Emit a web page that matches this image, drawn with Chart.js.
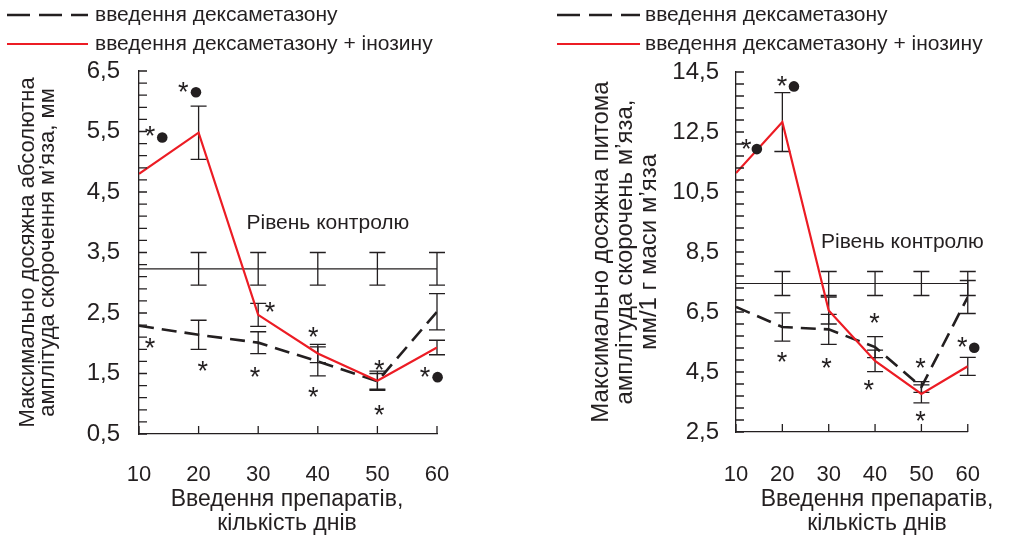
<!DOCTYPE html>
<html>
<head>
<meta charset="utf-8">
<script src="https://cdn.jsdelivr.net/npm/chart.js@4.4.1/dist/chart.umd.min.js"></script>
<style>
  html, body { margin: 0; padding: 0; background: #fff; }
  #wrap { position: relative; width: 1010px; height: 538px; overflow: hidden; }
  canvas { position: absolute; top: 0; }
  #cLeft { left: 0; }
  #cRight { left: 520px; }
</style>
</head>
<body>
<div id="wrap">
  <canvas id="cLeft" width="520" height="538"></canvas>
  <canvas id="cRight" width="490" height="538"></canvas>
</div>
<script>
// Days of drug administration
const days = [10, 20, 30, 40, 50, 60];

// Maximal absolute contraction amplitude, mm
const absControl    = [3.23, 3.23, 3.23, 3.23, 3.23, 3.23];
const absControlErr = [null, 0.27, 0.27, 0.27, 0.27, 0.27];
const absDex        = [2.29, 2.14, 2.01, 1.70, 1.37, 2.52];
const absDexErr     = [null, 0.24, 0.18, 0.24, 0.13, 0.30];
const absDexIno     = [4.80, 5.48, 2.47, 1.83, 1.38, 1.93];
const absDexInoErr  = [null, 0.44, 0.19, 0.15, 0.16, 0.12];
const absTicks      = [0.5, 1.5, 2.5, 3.5, 4.5, 5.5, 6.5];
// significance marks [day, value]
const absStars = [[11.85, 5.50], [17.43, 6.24], [31.98, 2.60], [11.85, 2.00], [20.69, 1.62],
                  [29.46, 1.53], [39.25, 2.19], [39.25, 1.20], [50.3, 1.64], [50.3, 0.90], [57.99, 1.53]];
const absDots  = [[13.9, 5.40], [19.56, 6.15], [60.1, 1.44]];
const absControlLabel = [41.7, 3.99];

// Maximal specific contraction amplitude, mm per 1 g of muscle
const specControl    = [7.45, 7.45, 7.45, 7.45, 7.45, 7.45];
const specControlErr = [null, 0.40, 0.40, 0.40, 0.40, 0.40];
const specDex        = [6.67, 6.00, 5.92, 5.33, 4.00, 7.00];
const specDexErr     = [null, 0.47, 0.50, 0.35, 0.18, 0.55];
const specDexIno     = [11.13, 12.83, 6.55, 4.87, 3.77, 4.69];
const specDexInoErr  = [null, 0.98, 0.45, 0.36, 0.30, 0.30];
const specTicks      = [2.5, 4.5, 6.5, 8.5, 10.5, 12.5, 14.5];
const specStars = [[12.2, 12.11], [19.9, 14.2], [19.9, 5.0], [29.5, 4.8], [39.9, 6.31],
                   [38.65, 4.06], [49.8, 4.8], [49.8, 3.03], [58.8, 5.5]];
const specDots  = [[14.5, 11.93], [22.5, 14.02], [61.4, 5.31]];
const specControlLabel = [45.9, 8.83];

const legendDex = 'введення дексаметазону';
const legendDexIno = 'введення дексаметазону + інозину';
const controlText = 'Рівень контролю';
const xTitle = ['Введення препаратів,', 'кількість днів'];

const ink = '#231f20';
const red = '#ec1c24';
const family = "'Liberation Sans', Arial, Helvetica, sans-serif";
const fmt = v => v.toFixed(1).replace('.', ',');

function makeChart(id, cfg) {
  const pts = arr => days.map((d, i) => ({ x: d, y: arr[i] }));

  const decor = {
    id: 'decor',
    beforeDatasetsDraw(chart) {
      const { ctx, scales: { x, y } } = chart;
      ctx.save();
      ctx.strokeStyle = ink;
      ctx.lineWidth = 1.3;
      const bars = (vals, errs) => {
        vals.forEach((v, i) => {
          if (errs[i] == null) return;
          const px = x.getPixelForValue(days[i]);
          const t = y.getPixelForValue(v + errs[i]);
          const b = y.getPixelForValue(v - errs[i]);
          ctx.beginPath();
          ctx.moveTo(px, t); ctx.lineTo(px, b);
          ctx.moveTo(px - 8, t); ctx.lineTo(px + 8, t);
          ctx.moveTo(px - 8, b); ctx.lineTo(px + 8, b);
          ctx.stroke();
        });
      };
      bars(cfg.control, cfg.controlErr);
      bars(cfg.dex, cfg.dexErr);
      bars(cfg.dexIno, cfg.dexInoErr);
      ctx.restore();
    },
    afterDatasetsDraw(chart) {
      const { ctx, chartArea: a, scales: { x, y } } = chart;
      ctx.save();
      // inner tick marks
      ctx.strokeStyle = ink;
      ctx.lineWidth = 1.3;
      ctx.beginPath();
      const n = Math.round((cfg.yMax - cfg.yMin) / cfg.minorStep);
      for (let i = 0; i <= n; i++) {
        const py = y.getPixelForValue(cfg.yMin + i * cfg.minorStep);
        ctx.moveTo(a.left, py); ctx.lineTo(a.left + 8, py);
      }
      days.forEach(d => {
        const px = x.getPixelForValue(d);
        ctx.moveTo(px, a.bottom); ctx.lineTo(px, a.bottom - 8);
      });
      ctx.stroke();

      // significance marks
      ctx.fillStyle = ink;
      ctx.font = '27px ' + family;
      ctx.textAlign = 'center';
      ctx.textBaseline = 'middle';
      cfg.stars.forEach(([d, v]) => {
        ctx.fillText('*', x.getPixelForValue(d), y.getPixelForValue(v) + 6.5);
      });
      cfg.dots.forEach(([d, v]) => {
        ctx.beginPath();
        ctx.arc(x.getPixelForValue(d), y.getPixelForValue(v), 5.3, 0, Math.PI * 2);
        ctx.fill();
      });

      // control level caption
      ctx.font = '21px ' + family;
      ctx.fillText(controlText, x.getPixelForValue(cfg.controlLabel[0]), y.getPixelForValue(cfg.controlLabel[1]));

      // x axis title
      ctx.font = '23px ' + family;
      ctx.fillText(xTitle[0], cfg.xTitleX, 500);
      ctx.fillText(xTitle[1], cfg.xTitleX, 524);

      // legend
      const L = cfg.legend;
      ctx.lineWidth = 2.6;
      ctx.strokeStyle = ink;
      ctx.setLineDash([23, 9]);
      ctx.beginPath(); ctx.moveTo(L.x0, L.y1); ctx.lineTo(L.x1, L.y1); ctx.stroke();
      ctx.setLineDash([]);
      ctx.strokeStyle = red;
      ctx.lineWidth = 2.2;
      ctx.beginPath(); ctx.moveTo(L.x0, L.y2); ctx.lineTo(L.x1, L.y2); ctx.stroke();
      ctx.textAlign = 'left';
      ctx.font = '21px ' + family;
      ctx.fillText(legendDex, L.tx, L.y1);
      ctx.fillText(legendDexIno, L.tx, L.y2);
      ctx.restore();
    }
  };

  return new Chart(document.getElementById(id), {
    type: 'line',
    data: {
      datasets: [
        { data: pts(cfg.dexIno), borderColor: red, borderWidth: 2.2, pointRadius: 0, tension: 0 },
        { data: pts(cfg.dex), borderColor: ink, borderWidth: 2.6, borderDash: [15, 8], pointRadius: 0, tension: 0 },
        { data: pts(cfg.control), borderColor: ink, borderWidth: 1.2, pointRadius: 0, tension: 0 }
      ]
    },
    options: {
      responsive: false,
      animation: false,
      devicePixelRatio: 1,
      layout: { padding: { left: 0, top: cfg.top, right: cfg.right, bottom: 0 } },
      plugins: { legend: { display: false }, tooltip: { enabled: false } },
      scales: {
        x: {
          type: 'linear', min: 10, max: 60,
          afterBuildTicks: s => { s.ticks = days.map(v => ({ value: v })); },
          afterFit: s => { s.height = cfg.xHeight; },
          grid: { display: false, drawTicks: false },
          border: { display: true, color: ink, width: 1.3 },
          ticks: { padding: cfg.xPad, color: ink, autoSkip: false, maxRotation: 0,
                   font: { family, size: 22 } },
          title: { display: false }
        },
        y: {
          type: 'linear', min: cfg.yMin, max: cfg.yMax,
          afterBuildTicks: s => { s.ticks = cfg.ticks.map(v => ({ value: v })); },
          afterFit: s => { s.width = cfg.axisX; },
          grid: { display: false, drawTicks: false },
          border: { display: true, color: ink, width: 1.3 },
          ticks: { padding: cfg.yPad, color: ink, autoSkip: false, callback: v => fmt(v),
                   font: { family, size: 24 } },
          title: { display: true, text: cfg.yTitle, color: ink,
                   font: { family, size: cfg.yTitleSize, lineHeight: cfg.yTitleLH + 'px' },
                   padding: { top: cfg.yTitlePad, bottom: 0 } }
        }
      }
    },
    plugins: [decor]
  });
}

makeChart('cLeft', {
  control: absControl, controlErr: absControlErr,
  dex: absDex, dexErr: absDexErr,
  dexIno: absDexIno, dexInoErr: absDexInoErr,
  ticks: absTicks, yMin: 0.5, yMax: 6.5, minorStep: 0.2,
  stars: absStars, dots: absDots, controlLabel: absControlLabel,
  yTitle: ['Максимально досяжна абсолютна', 'амплітуда скорочення м’яза, мм'],
  yTitleSize: 22, yTitleLH: 20, yTitlePad: 18,
  axisX: 139, top: 71, right: 83, xHeight: 104, xPad: 28, yPad: 19,
  xTitleX: 287,
  legend: { x0: 7, x1: 88, tx: 95, y1: 15, y2: 44 }
});

makeChart('cRight', {
  control: specControl, controlErr: specControlErr,
  dex: specDex, dexErr: specDexErr,
  dexIno: specDexIno, dexInoErr: specDexInoErr,
  ticks: specTicks, yMin: 2.5, yMax: 14.5, minorStep: 0.4,
  stars: specStars, dots: specDots, controlLabel: specControlLabel,
  yTitle: ['Максимально досяжна питома', 'амплітуда скорочень м’яза,', 'мм/1 г маси м’яза'],
  yTitleSize: 24, yTitleLH: 24, yTitlePad: 69,
  axisX: 216, top: 72, right: 18, xHeight: 106, xPad: 30, yPad: 17,
  xTitleX: 357,
  legend: { x0: 37, x1: 120, tx: 125, y1: 15, y2: 44 }
});
</script>
</body>
</html>
